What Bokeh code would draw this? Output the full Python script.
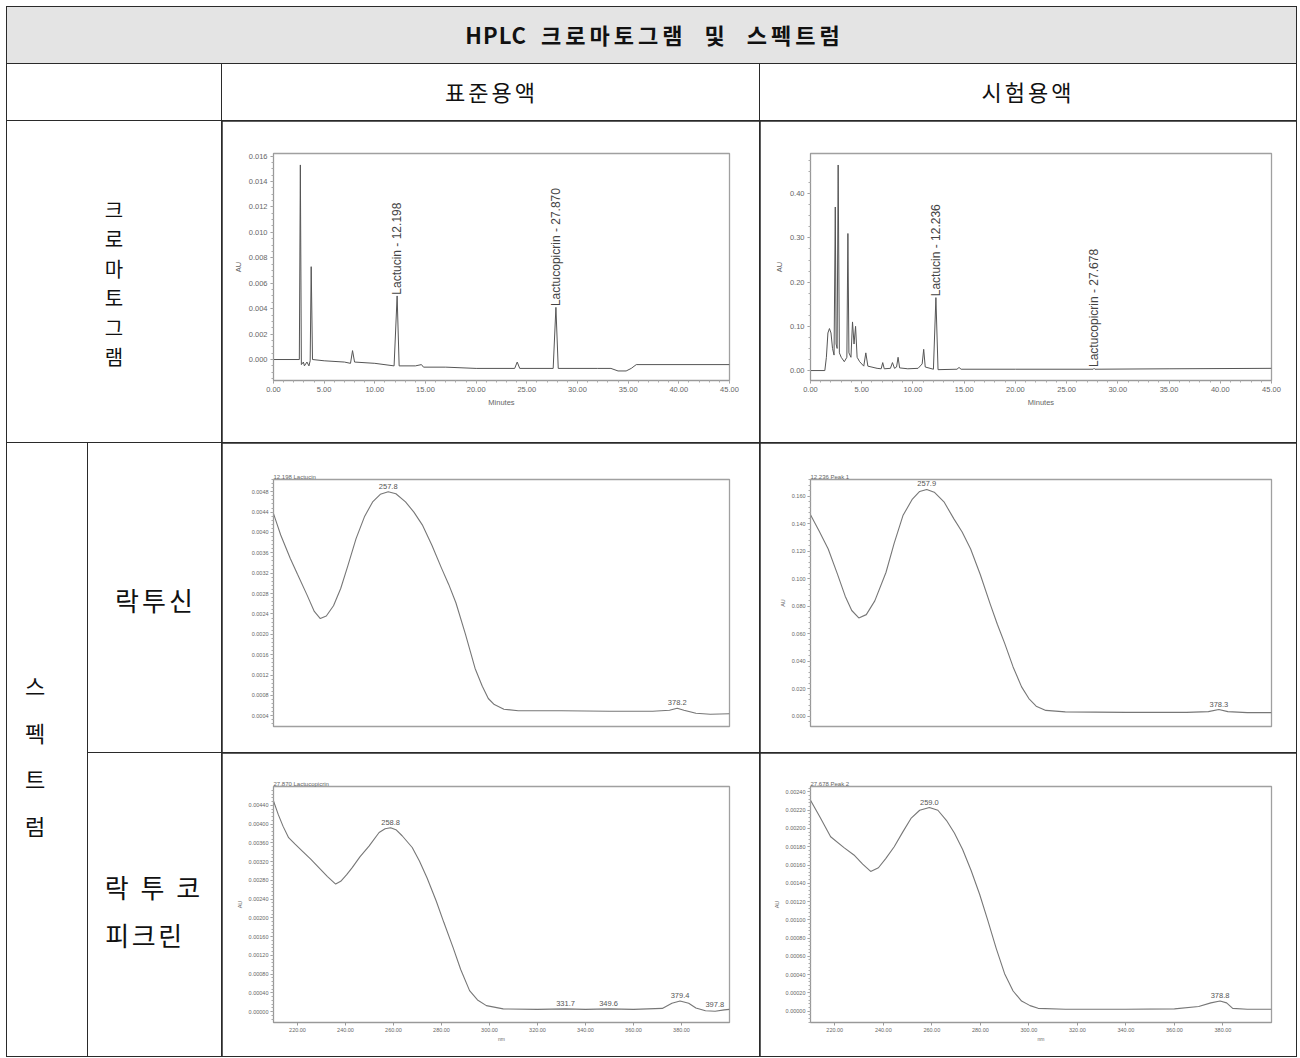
import math
import numpy as np
from bokeh.plotting import figure
from bokeh.models import GridBox, FixedTicker, NumeralTickFormatter, Range1d, Div
from bokeh.embed import file_html
from bokeh.resources import INLINE
from bokeh.core.properties import value

KFONT = "Noto Sans CJK KR"
AFONT = "Liberation Sans"

# ---------------- table texts ----------------
title_latin = "HPLC"
title_korean = "크로마토그램 및 스펙트럼"
col_headers = ["표준용액", "시험용액"]
row_chrom = ["크", "로", "마", "토", "그", "램"]
row_spec = ["스", "펙", "트", "럼"]
row_lactucin = "락투신"
row_lcp = ["락 투 코", "피크린"]

# ---------------- chromatograms ----------------
chrom_xticks = [0, 5, 10, 15, 20, 25, 30, 35, 40, 45]
std_time = [0.0, 2.55, 2.65, 2.75, 2.95, 3.05, 3.3, 3.5, 3.62, 3.72, 3.85, 5.0, 7.0,
            7.6, 7.8, 8.0, 10.0, 11.9, 12.2, 12.4, 14.0, 14.6, 14.8, 17.0, 20.0,
            23.8, 24.05, 24.3, 27.6, 27.87, 28.1, 32.0, 33.3, 34.0, 34.8, 35.3, 35.8, 45.0]
std_au = [0.0000, 0.0000, 0.0153, -0.0004, -0.0002, -0.0005, -0.0002, -0.0005, -0.0001,
          0.0073, 0.0000, -0.0001, -0.0002, -0.0003, 0.0007, -0.0002, -0.0003, -0.0005,
          0.0050, -0.0005, -0.0005, -0.0004, -0.0006, -0.0006, -0.0007, -0.0007, -0.0002,
          -0.0007, -0.0007, 0.0041, -0.0007, -0.0007, -0.0007, -0.0009, -0.0009, -0.0007,
          -0.0004, -0.0004]
std_yticks = [0.000, 0.002, 0.004, 0.006, 0.008, 0.010, 0.012, 0.014, 0.016]
std_peaks_t = [12.198, 27.870]
std_peaks_h = [0.0050, 0.0041]
std_peaks_lbl = ["Lactucin - 12.198", "Lactucopicrin - 27.870"]

test_time = [0.0, 1.4, 1.55, 1.7, 1.85, 2.0, 2.15, 2.3, 2.42, 2.5, 2.6, 2.7, 2.82, 3.0,
             3.3, 3.55, 3.65, 3.75, 3.95, 4.1, 4.25, 4.4, 4.55, 4.8, 5.2, 5.4, 5.6, 6.5,
             6.9, 7.05, 7.2, 7.8, 8.0, 8.2, 8.4, 8.55, 8.7, 9.5, 10.5, 10.9, 11.05, 11.2,
             12.0, 12.24, 12.45, 14.3, 14.5, 14.7, 20.0, 27.6, 27.68, 27.76, 35.0, 45.0]
test_au = [0.000, 0.000, 0.030, 0.085, 0.095, 0.085, 0.050, 0.035, 0.370, 0.060, 0.050,
           0.465, 0.040, 0.030, 0.020, 0.030, 0.310, 0.040, 0.030, 0.110, 0.060, 0.100,
           0.030, 0.020, 0.010, 0.040, 0.010, 0.005, 0.004, 0.018, 0.004, 0.005, 0.018,
           0.005, 0.008, 0.030, 0.006, 0.004, 0.005, 0.015, 0.048, 0.008, 0.003, 0.165,
           0.002, 0.003, 0.007, 0.003, 0.003, 0.003, 0.005, 0.003, 0.004, 0.005]
test_yticks = [0.00, 0.10, 0.20, 0.30, 0.40]
test_peaks_t = [12.236, 27.678]
test_peaks_h = [0.165, 0.005]
test_peaks_lbl = ["Lactucin - 12.236", "Lactucopicrin - 27.678"]

# ---------------- UV spectra ----------------
spec_xticks = [220, 240, 260, 280, 300, 320, 340, 360, 380]

lac_std_nm = [210, 213, 217, 220, 224, 227, 229.5, 232, 235, 238, 241, 244.4, 248, 251.3,
              254.5, 257.8, 261, 265, 268.5, 272, 276, 280, 283, 286, 290, 294, 297, 299.5,
              302, 306, 312, 330, 350, 368, 375, 378.2, 381, 386, 392, 400]
lac_std_au = [0.00437, 0.00395, 0.00349, 0.00318, 0.00277, 0.00245, 0.00231, 0.00236,
              0.00256, 0.00290, 0.00335, 0.00388, 0.00432, 0.00460, 0.00475, 0.00480,
              0.00476, 0.00460, 0.00440, 0.00415, 0.00375, 0.00330, 0.00298, 0.00262,
              0.00200, 0.00133, 0.00098, 0.00074, 0.00062, 0.00053, 0.00050, 0.00050,
              0.00049, 0.00049, 0.00051, 0.00055, 0.00051, 0.00045, 0.00043, 0.00044]
lac_std_yticks = [0.0004, 0.0008, 0.0012, 0.0016, 0.0020, 0.0024, 0.0028, 0.0032,
                  0.0036, 0.0040, 0.0044, 0.0048]
lac_std_marks = [257.8, 378.2]
lac_std_title = "12.198 Lactucin"

lac_test_nm = [210, 213.5, 217.3, 221, 224.3, 227, 229.9, 233, 236.5, 241.1, 244.5, 248.1,
               252, 255, 257.9, 261, 265, 269.1, 272.5, 276, 280, 284, 287, 290, 293.5,
               297, 300, 303, 307, 315, 340, 365, 374, 378.3, 382, 390, 400]
lac_test_au = [0.1466, 0.1350, 0.1217, 0.1040, 0.0874, 0.0770, 0.0716, 0.0740, 0.0840,
               0.1046, 0.1260, 0.1460, 0.1580, 0.1635, 0.1650, 0.1630, 0.1560, 0.1436,
               0.1340, 0.1217, 0.1030, 0.0820, 0.0670, 0.0533, 0.0360, 0.0215, 0.0130,
               0.0075, 0.0044, 0.0033, 0.0030, 0.0030, 0.0035, 0.0050, 0.0035, 0.0028,
               0.0028]
lac_test_yticks = [0.000, 0.020, 0.040, 0.060, 0.080, 0.100, 0.120, 0.140, 0.160]
lac_test_marks = [257.9, 378.3]
lac_test_title = "12.236 Peak 1"

lcp_std_nm = [210, 212, 214, 216.3, 219, 221.9, 225.5, 228.9, 232.5, 235.9, 238, 240.5,
              242.8, 246, 249.8, 254, 256.5, 258.8, 261, 263.6, 267.8, 270.8, 274, 277.8,
              281, 284.8, 288, 291.7, 295, 298.7, 305.7, 320, 331.7, 340, 349.6, 360, 372,
              376, 379.4, 383, 386, 390, 394, 397.8, 400]
lcp_std_au = [0.00449, 0.00420, 0.00395, 0.00371, 0.00357, 0.00343, 0.00325, 0.00307,
              0.00288, 0.00272, 0.00278, 0.00292, 0.00307, 0.00330, 0.00353, 0.00382,
              0.00390, 0.00392, 0.00388, 0.00375, 0.00350, 0.00321, 0.00285, 0.00236,
              0.00190, 0.00137, 0.00090, 0.00045, 0.00025, 0.00013, 0.00006, 0.00005,
              0.00006, 0.00005, 0.00006, 0.00005, 0.00007, 0.00018, 0.00023, 0.00018,
              0.00008, 0.00002, 0.00001, 0.00004, 0.00005]
lcp_std_yticks = [0.0000, 0.0004, 0.0008, 0.0012, 0.0016, 0.0020, 0.0024, 0.0028,
                  0.0032, 0.0036, 0.0040, 0.0044]
lcp_std_marks = [258.8, 331.7, 349.6, 379.4, 397.8]
lcp_std_title = "27.870 Lactucopicrin"

lcp_test_nm = [210, 214, 218.3, 223.8, 227.9, 231.5, 234.8, 238, 241, 244.5, 248, 251.4,
               255, 259, 262.5, 266, 269.3, 272.7, 276.2, 279.7, 283.1, 286.5, 290, 293.5,
               297, 300.5, 303.8, 315, 340, 360, 370, 375, 378.8, 381.5, 384, 390, 400]
lcp_test_au = [0.00231, 0.00212, 0.00191, 0.00179, 0.00171, 0.00161, 0.00153, 0.00157,
               0.00167, 0.00180, 0.00196, 0.00211, 0.00220, 0.00223, 0.00220, 0.00209,
               0.00195, 0.00177, 0.00154, 0.00128, 0.00099, 0.00069, 0.00041, 0.00022,
               0.00011, 0.00006, 0.00003, 0.00002, 0.00002, 0.000024, 0.00005, 0.00009,
               0.00011, 0.00009, 0.00003, 0.00002, 0.00002]
lcp_test_yticks = [0.0000, 0.0002, 0.0004, 0.0006, 0.0008, 0.0010, 0.0012, 0.0014,
                   0.0016, 0.0018, 0.0020, 0.0022, 0.0024]
lcp_test_marks = [259.0, 378.8]
lcp_test_title = "27.678 Peak 2"

# ---------------- layout sizes ----------------
C0, C1, C2, C3 = 80, 133, 537, 536
R0, R1, R2, R3, R4 = 56, 56, 321, 309, 303
GAP = 1
LINE = "#2a2a2a"
GREY_TXT = "#666666"
# frame insets per column / row (left, right) and (top, bottom)
COL2_LR = (51, 30)
COL3_LR = (50, 25)
ROW2_TB = (32, 62)
ROW3_TB = (36, 26)
ROW4_TB = (33, 34)


def text_cell(w, h, items, fill="white"):
    """items: (x, y, html, css) with x, y = centre of text in px from top-left"""
    inner = ""
    for x, y, html, css in items:
        inner += ('<div style="position:absolute;left:%spx;top:%spx;'
                  'transform:translate(-50%%,-50%%);white-space:nowrap;%s">%s</div>'
                  % (x, y, css, html))
    html = ('<div style="position:relative;width:%dpx;height:%dpx;background:%s;'
            'overflow:hidden;font-family:\'%s\';color:#111;">%s</div>'
            % (w, h, fill, KFONT, inner))
    return Div(text=html, width=w, height=h, margin=0,
               styles={"background-color": fill, "overflow": "hidden",
                       "margin": "0", "padding": "0"})


def style_axes(p, fs, standoff=2):
    for ax in p.axis:
        ax.axis_line_color = "#999999"
        ax.major_tick_line_color = "#999999"
        ax.minor_tick_line_color = "#aaaaaa"
        ax.major_tick_in = 0
        ax.major_tick_out = 3
        ax.minor_tick_in = 0
        ax.minor_tick_out = 2
        ax.major_label_text_font = AFONT
        ax.major_label_text_font_size = fs
        ax.major_label_text_color = GREY_TXT
        ax.major_label_standoff = standoff
        ax.axis_label_text_font = AFONT
        ax.axis_label_text_font_size = fs
        ax.axis_label_text_font_style = "normal"
        ax.axis_label_text_color = GREY_TXT
        ax.axis_label_standoff = 3
    p.xgrid.visible = False
    p.ygrid.visible = False


def chart(w, h, xr, yr, lr, tb):
    p = figure(width=w, height=h, x_range=Range1d(*xr), y_range=Range1d(*yr),
               toolbar_location=None, output_backend="svg",
               min_border_left=lr[0], min_border_right=lr[1], min_border_top=tb[0],
               min_border_bottom=tb[1], outline_line_color="#a0a0a0",
               outline_line_width=1.3, background_fill_color="white",
               border_fill_color="white")
    return p


def chromatogram(w, h, t, au, yr, yticks, yfmt, peaks_t, peaks_h, peaks_lbl, lbl_off, lr, tb):
    p = chart(w, h, (0, 45), yr, lr, tb)
    p.line(t, au, line_color="#555555", line_width=1)
    p.xaxis.ticker = FixedTicker(ticks=chrom_xticks,
                                 minor_ticks=[i for i in range(0, 46)])
    step = yticks[1] - yticks[0]
    p.yaxis.ticker = FixedTicker(ticks=yticks,
                                 minor_ticks=[yticks[0] + k * step / 4 for k in range(-8, 4 * len(yticks) + 4)])
    p.xaxis.formatter = NumeralTickFormatter(format="0.00")
    p.yaxis.formatter = NumeralTickFormatter(format=yfmt)
    p.xaxis.axis_label = "Minutes"
    p.yaxis.axis_label = "AU"
    style_axes(p, "7.5px", standoff=3)
    p.text(x=peaks_t, y=[hh + lbl_off for hh in peaks_h], text=peaks_lbl,
           angle=math.pi / 2, text_align="left", text_baseline="middle",
           text_font=value(AFONT), text_font_size="12px", text_color="#444444")
    return p


def spectrum(w, h, nm, au, yr, yticks, yfmt, marks, title, lr, tb, xlabels, ylabel):
    p = chart(w, h, (210, 400), yr, lr, tb)
    p.line(nm, au, line_color="#777777", line_width=1.1)
    step = yticks[1] - yticks[0]
    p.yaxis.ticker = FixedTicker(ticks=yticks,
                                 minor_ticks=[yticks[0] + k * step / 5 for k in range(-5, 5 * len(yticks) + 5)])
    p.yaxis.formatter = NumeralTickFormatter(format=yfmt)
    p.xaxis.ticker = FixedTicker(ticks=spec_xticks, minor_ticks=[])
    p.xaxis.formatter = NumeralTickFormatter(format="0.00")
    if ylabel:
        p.yaxis.axis_label = "AU"
    style_axes(p, "5.5px", standoff=2)
    if xlabels:
        p.xaxis.axis_label = "nm"
        p.xaxis.axis_label_text_font_size = "5px"
        p.xaxis.axis_label_standoff = 1
    else:
        p.xaxis.visible = False
    p.title.text = title
    p.title.align = "left"
    p.title.text_font = AFONT
    p.title.text_font_size = "6px"
    p.title.text_font_style = "normal"
    p.title.text_color = GREY_TXT
    p.title.standoff = 0
    off = (yr[1] - yr[0]) * 0.012
    ys = [float(np.interp(m, nm, au)) + off for m in marks]
    aligns = ["right" if m > 392 else "center" for m in marks]
    xs = [min(m, 399.5) for m in marks]
    p.text(x=xs, y=ys, text=["%.1f" % m for m in marks], text_align=aligns,
           text_baseline="bottom", text_font=value(AFONT), text_font_size="7.5px",
           text_color="#555555")
    return p


# ---------------- cells ----------------
W_ALL = C0 + C1 + C2 + C3 + 3 * GAP
W01 = C0 + C1 + GAP

title_html = ('<span style="letter-spacing:1px;">%s</span>&nbsp;'
              '<span style="letter-spacing:4px;word-spacing:9px;">%s</span>'
              % (title_latin, title_korean))
title_cell = text_cell(W_ALL, R0, [(W_ALL / 2 + 3, R0 / 2, title_html,
                                    "font-size:22px;font-weight:bold;word-spacing:9px;")],
                       fill="#e4e4e4")
hdr_blank = text_cell(W01, R1, [])
hdr_std = text_cell(C2, R1, [(C2 / 2 + 1, R1 / 2, col_headers[0],
                              "font-size:22px;letter-spacing:3px;")])
hdr_test = text_cell(C3, R1, [(C3 / 2, R1 / 2, col_headers[1],
                               "font-size:22px;letter-spacing:3px;")])
chrom_items = [(W01 / 2, 89 + i * 29.4, ch, "font-size:20px;line-height:20px;")
               for i, ch in enumerate(row_chrom)]
chrom_lbl = text_cell(W01, R2, chrom_items)
spec_items = [(28, 242 + i * 46.7, ch, "font-size:22px;line-height:22px;")
              for i, ch in enumerate(row_spec)]
spec_lbl = text_cell(C0, R3 + R4 + GAP, spec_items)
lac_lbl = text_cell(C1, R3, [(C1 / 2 + 1, 157, row_lactucin,
                              "font-size:26px;letter-spacing:3px;")])
lcp_lbl = text_cell(C1, R4, [(14 + 52, 134, row_lcp[0], "font-size:26px;letter-spacing:3px;"),
                             (14 + 43, 182, row_lcp[1], "font-size:26px;letter-spacing:2.5px;")])

chrom_std = chromatogram(C2, R2, std_time, std_au, (-0.00165, 0.0162), std_yticks, "0.000",
                         std_peaks_t, std_peaks_h, std_peaks_lbl, 0.0001, COL2_LR, ROW2_TB)
chrom_test = chromatogram(C3, R2, test_time, test_au, (-0.0225, 0.491), test_yticks, "0.00",
                          test_peaks_t, test_peaks_h, test_peaks_lbl, 0.003, COL3_LR, ROW2_TB)

lac_std = spectrum(C2, R3, lac_std_nm, lac_std_au, (0.00019, 0.00504), lac_std_yticks,
                   "0.0000", lac_std_marks, lac_std_title, COL2_LR, ROW3_TB, False, False)
lac_test = spectrum(C3, R3, lac_test_nm, lac_test_au, (-0.0073, 0.1722), lac_test_yticks,
                    "0.000", lac_test_marks, lac_test_title, COL3_LR, ROW3_TB, False, True)
lcp_std = spectrum(C2, R4, lcp_std_nm, lcp_std_au, (-0.00023, 0.0048), lcp_std_yticks,
                   "0.00000", lcp_std_marks, lcp_std_title, COL2_LR, ROW4_TB, True, True)
lcp_test = spectrum(C3, R4, lcp_test_nm, lcp_test_au, (-0.000125, 0.00246), lcp_test_yticks,
                    "0.00000", lcp_test_marks, lcp_test_title, COL3_LR, ROW4_TB, True, True)

grid = GridBox(children=[
    (title_cell, 0, 0, 1, 4),
    (hdr_blank, 1, 0, 1, 2),
    (hdr_std, 1, 2),
    (hdr_test, 1, 3),
    (chrom_lbl, 2, 0, 1, 2),
    (chrom_std, 2, 2),
    (chrom_test, 2, 3),
    (spec_lbl, 3, 0, 2, 1),
    (lac_lbl, 3, 1),
    (lac_std, 3, 2),
    (lac_test, 3, 3),
    (lcp_lbl, 4, 1),
    (lcp_std, 4, 2),
    (lcp_test, 4, 3),
], spacing=GAP, margin=(6, 0, 0, 6),
    styles={"background-color": LINE, "padding": "1px"})

open("out.html", "w").write(file_html(grid, INLINE))
